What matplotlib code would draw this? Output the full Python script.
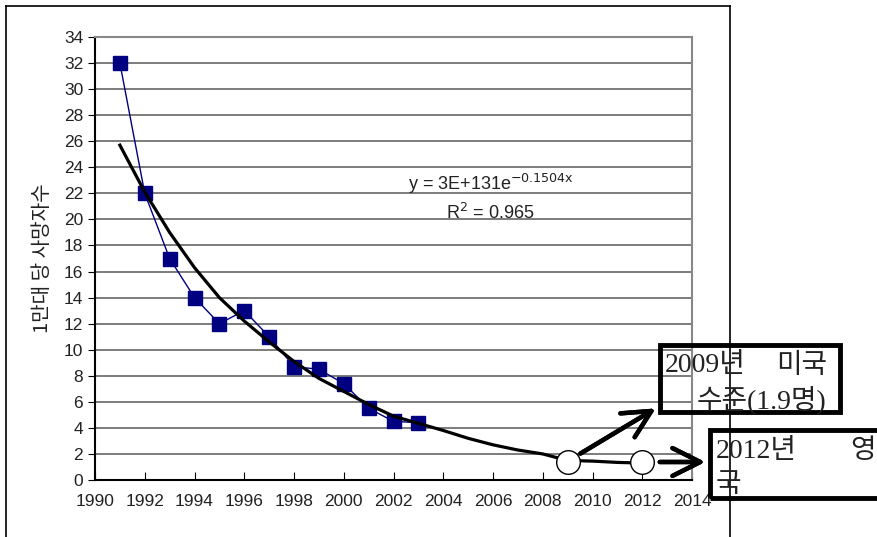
import matplotlib.pyplot as plt
from matplotlib.patches import Rectangle
from matplotlib.lines import Line2D

# observed deaths per 10,000 vehicles
years = [1991, 1992, 1993, 1994, 1995, 1996, 1997, 1998, 1999, 2000, 2001, 2002, 2003]
deaths = [32, 22, 17, 14, 12, 13, 11, 8.7, 8.5, 7.4, 5.5, 4.5, 4.4]

# trend curve (extended to 2012)
trend_years = [1991, 1992, 1993, 1994, 1995, 1996, 1997, 1998, 1999, 2000, 2001,
               2002, 2003, 2004, 2005, 2006, 2007, 2008, 2009, 2010, 2011, 2012]
trend_vals = [25.7, 22.1, 19.0, 16.3, 14.0, 12.2, 10.6, 9.1, 7.8, 6.8, 5.8,
              4.9, 4.35, 3.8, 3.2, 2.7, 2.3, 2.0, 1.5, 1.45, 1.35, 1.3]

# target points (circles)
target_years = [2009, 2012]
target_vals = [1.4, 1.4]

y_ticks = list(range(0, 35, 2))
x_ticks = list(range(1990, 2015, 2))

W, H = 878, 537
fig = plt.figure(figsize=(W / 100, H / 100), dpi=100)
ax = fig.add_axes([95 / W, 1 - 480 / H, (692 - 95) / W, (480 - 37) / H])

ax.plot(years, deaths, color='#000080', lw=1, marker='s', markersize=10,
        markerfacecolor='#000080', markeredgecolor='#000080', zorder=3)
ax.plot(trend_years, trend_vals, color='black', lw=2.3, zorder=4)
ax.plot(target_years, target_vals, ls='none', marker='o', markersize=17,
        markerfacecolor='white', markeredgecolor='black', markeredgewidth=1,
        zorder=5, clip_on=False)

ax.set_xlim(1990, 2014)
ax.set_ylim(0, 34)
ax.set_xticks(x_ticks)
ax.set_yticks(y_ticks)
ax.tick_params(axis='x', direction='in', length=6, pad=10, labelsize=12.5)
ax.tick_params(axis='y', direction='out', length=5, labelsize=12.5)
for lab in ax.get_xticklabels() + ax.get_yticklabels():
    lab.set_family('Liberation Sans')
    lab.set_color('#222222')
ax.yaxis.grid(True, color='#666666', lw=1.2)
ax.set_axisbelow(True)
ax.spines['left'].set_linewidth(1.5)
ax.spines['bottom'].set_linewidth(1.5)
ax.spines['top'].set_color('#888888')
ax.spines['right'].set_color('#888888')
ax.spines['top'].set_linewidth(1.5)
ax.spines['right'].set_linewidth(1.5)

ax.set_ylabel('1만대 당 사망자수', family=['Noto Sans CJK KR', 'DejaVu Sans'],
              fontsize=14.5, color='#222222', labelpad=8)

ax.text(2005.9, 22.7, 'y = 3E+131e$^{\\mathrm{-0.1504x}}$', family='Liberation Sans',
        fontsize=13, ha='center', va='center', color='#222222')
ax.text(2005.9, 20.5, 'R$^{\\mathrm{2}}$ = 0.965', family='Liberation Sans',
        fontsize=13, ha='center', va='center', color='#222222')

# outer chart frame
def px(x, y):
    return x / W, 1 - y / H

frame = [((6, 6), (730, 6)), ((6, 6), (6, 545)), ((730, 6), (730, 545))]
for (a, b) in frame:
    p, q = px(*a), px(*b)
    fig.add_artist(Line2D([p[0], q[0]], [p[1], q[1]], color='black', lw=1.2))

# annotation boxes
def box(x0, y0, x1, y1):
    p = px(x0, y1)
    fig.add_artist(Rectangle(p, (x1 - x0) / W, (y1 - y0) / H, fill=False,
                             edgecolor='black', lw=3.5, transform=fig.transFigure))

box(660, 345, 840, 412)
box(710, 430, 890, 498)

kfont = ['Liberation Serif', 'Noto Sans CJK KR']
def label(x, y, s, ha='left'):
    fig.text(*px(x, y), s, family=kfont, fontsize=20, ha=ha, va='center',
             color='#222222')

label(665, 366, '2009년')
label(827, 366, '미국', ha='right')
label(826, 400, '수준(1.9명)', ha='right')
label(716, 452, '2012년')
label(876, 452, '영', ha='right')
label(716, 485, '국')

# arrows
arrow_kw = dict(arrowstyle='->,head_length=2.0,head_width=1.0', color='black',
                lw=3.2)
fig.add_artist(plt.annotate('', xy=px(658, 407), xytext=px(578, 455),
                            xycoords='figure fraction', textcoords='figure fraction',
                            arrowprops=arrow_kw))
fig.add_artist(plt.annotate('', xy=px(708, 462), xytext=px(657, 462),
                            xycoords='figure fraction', textcoords='figure fraction',
                            arrowprops=arrow_kw))

fig.savefig('out.png', dpi=100)
